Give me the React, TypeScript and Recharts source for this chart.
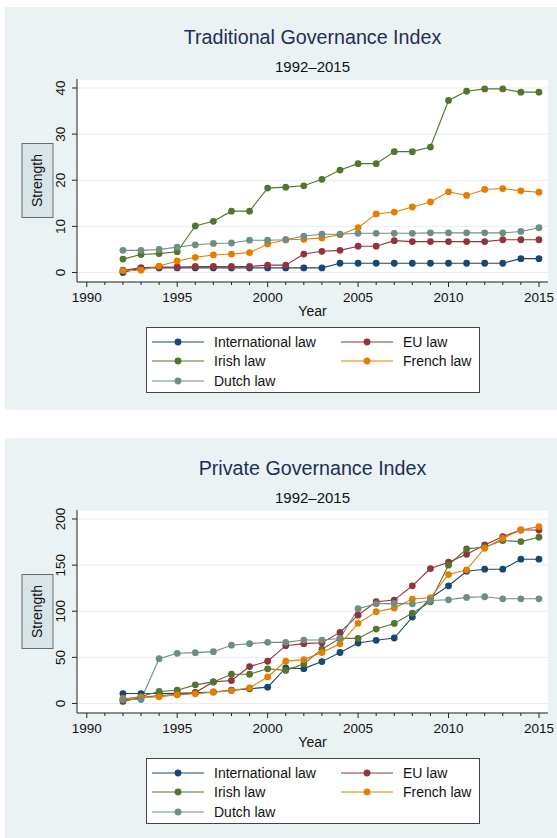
import { LineChart, Line, XAxis, YAxis, CartesianGrid } from 'recharts'

const FONT = '"Liberation Sans", Arial, Helvetica, sans-serif'

// years covered by the data, and every year on the axis (majors every 5)
const years = [1992, 1993, 1994, 1995, 1996, 1997, 1998, 1999, 2000, 2001, 2002, 2003, 2004, 2005, 2006, 2007, 2008, 2009, 2010, 2011, 2012, 2013, 2014, 2015]
const yearTicks = [1990, 1991, 1992, 1993, 1994, 1995, 1996, 1997, 1998, 1999, 2000, 2001, 2002, 2003, 2004, 2005, 2006, 2007, 2008, 2009, 2010, 2011, 2012, 2013, 2014, 2015]

// Traditional Governance Index
const tradTicks = [0, 10, 20, 30, 40]
const tradInternational = [0, 1, 1, 1, 1, 1, 1, 1, 1, 1, 1, 1, 2, 2, 2, 2, 2, 2, 2, 2, 2, 2, 3, 3]
const tradEU = [0.5, 1.0, 1.2, 1.2, 1.3, 1.3, 1.3, 1.3, 1.6, 1.6, 4.0, 4.6, 4.8, 5.7, 5.7, 6.9, 6.7, 6.7, 6.7, 6.7, 6.7, 7.1, 7.1, 7.1]
const tradIrish = [2.9, 3.9, 4.1, 4.5, 10.1, 11.1, 13.3, 13.3, 18.3, 18.5, 18.8, 20.2, 22.2, 23.6, 23.6, 26.2, 26.2, 27.2, 37.3, 39.3, 39.8, 39.8, 39.1, 39.1]
const tradFrench = [0.4, 0.5, 1.4, 2.5, 3.3, 3.8, 4.0, 4.3, 6.2, 7.1, 7.2, 7.5, 8.2, 9.7, 12.7, 13.1, 14.2, 15.3, 17.5, 16.7, 18.0, 18.2, 17.7, 17.4]
const tradDutch = [4.8, 4.8, 5.0, 5.5, 6.0, 6.3, 6.4, 7.0, 7.0, 7.1, 7.9, 8.3, 8.3, 8.5, 8.5, 8.5, 8.5, 8.6, 8.6, 8.6, 8.6, 8.6, 8.9, 9.7]

// Private Governance Index
const privTicks = [0, 50, 100, 150, 200]
const privInternational = [10.8, 10.8, 10.8, 11, 11.5, 12.5, 14.4, 15.9, 17.7, 38.5, 37.8, 45.4, 55.3, 65.5, 68.5, 71, 93.7, 114.2, 127.6, 143.4, 145.6, 145.6, 156.4, 156.4]
const privEU = [2.2, 6.5, 8.6, 9.7, 11.9, 23.4, 24.9, 40, 45.8, 62.7, 64.9, 65.9, 77.1, 95.8, 110.3, 112.1, 127.6, 146.3, 153.2, 161.8, 171.9, 180.9, 188.1, 188.1]
const privIrish = [4.3, 7.6, 13, 14.4, 20.2, 23.4, 31.7, 31.7, 37.6, 35.9, 42.9, 58.9, 70.6, 70.6, 80.7, 86.8, 98, 110.3, 150, 167.6, 169.7, 176.6, 175.5, 180.2]
const privFrench = [5.4, 6.5, 7.2, 9.4, 10.5, 12.3, 14, 16.9, 28.8, 45.9, 47.6, 55.3, 64.7, 86.9, 99.5, 103.4, 113.2, 114.6, 139.8, 144.9, 168.3, 179.1, 188.1, 191.7]
const privDutch = [4.3, 4.3, 48.6, 54.4, 55.1, 56.2, 63.2, 64.9, 66.3, 66.3, 68.8, 68.8, 70.5, 102.8, 108.1, 108.5, 108.1, 111.7, 112.4, 115, 115.7, 113.5, 113.5, 113.5]

const series = [
  { key: 'intl', name: 'International law', color: '#1a476f' },
  { key: 'eu', name: 'EU law', color: '#90353b' },
  { key: 'irish', name: 'Irish law', color: '#55752f' },
  { key: 'french', name: 'French law', color: '#e37e00' },
  { key: 'dutch', name: 'Dutch law', color: '#6e8e84' },
]

const buildRows = (intl: number[], eu: number[], irish: number[], french: number[], dutch: number[]) =>
  years.map((year, i) => ({ year, intl: intl[i], eu: eu[i], irish: irish[i], french: french[i], dutch: dutch[i] }))

const tradData = buildRows(tradInternational, tradEU, tradIrish, tradFrench, tradDutch)
const privData = buildRows(privInternational, privEU, privIrish, privFrench, privDutch)

const YearTick = ({ x, y, payload }: any) => {
  const major = payload.value % 5 === 0
  return (
    <g>
      <line x1={x} x2={x} y1={y} y2={y + (major ? 5 : 3)} stroke="#222" />
      {major && (
        <text x={x} y={y + 19.5} textAnchor="middle" fontSize={13.5} fill="#111" fontFamily={FONT}>
          {payload.value}
        </text>
      )}
    </g>
  )
}

const ValueTick = ({ x, y, payload }: any) => (
  <g>
    <line x1={x} x2={x - 5} y1={y} y2={y} stroke="#222" />
    <text
      transform={`translate(${x - 17},${y}) rotate(-90)`}
      textAnchor="middle"
      dy="0.35em"
      fontSize={13.5}
      fill="#111"
      fontFamily={FONT}
    >
      {payload.value}
    </text>
  </g>
)

const StrengthTitle = ({ viewBox }: any) => {
  const cx = viewBox.x + 0.5
  const cy = viewBox.y + viewBox.height / 2
  return (
    <g>
      <rect x={cx - 15.5} y={cy - 37} width={31} height={74} fill="#d9e4e9" stroke="#6a6a6a" />
      <text
        transform={`translate(${cx},${cy}) rotate(-90)`}
        textAnchor="middle"
        dy="0.35em"
        fontSize={14}
        fill="#111"
        fontFamily={FONT}
      >
        Strength
      </text>
    </g>
  )
}

const YearTitle = ({ viewBox }: any) => (
  <text
    x={viewBox.x + viewBox.width / 2}
    y={viewBox.y + 34}
    textAnchor="middle"
    fontSize={14}
    fill="#111"
    fontFamily={FONT}
  >
    Year
  </text>
)

const legendRows = [
  ['intl', 'eu'],
  ['irish', 'french'],
  ['dutch'],
]

function LegendBox() {
  return (
    <div
      style={{
        position: 'absolute',
        left: 141,
        top: 320,
        width: 334,
        height: 66,
        boxSizing: 'border-box',
        border: '1px solid #444',
        background: '#fff',
      }}
    >
      {legendRows.map((row, r) =>
        row.map((key, c) => {
          const s = series.find((d) => d.key === key)!
          return (
            <div
              key={key}
              style={{
                position: 'absolute',
                left: c === 0 ? 5 : 194,
                top: 3.5 + r * 19.8,
                height: 20,
                display: 'flex',
                alignItems: 'center',
              }}
            >
              <svg width={52} height={20}>
                <line x1={0} x2={52} y1={10} y2={10} stroke={s.color} strokeWidth={1} />
                <circle cx={26} cy={10} r={3.4} fill={s.color} />
              </svg>
              <span style={{ marginLeft: 10, fontSize: 14, color: '#111', fontFamily: FONT, whiteSpace: 'nowrap' }}>
                {s.name}
              </span>
            </div>
          )
        })
      )}
    </div>
  )
}

function Panel({ top, height, title, data, domain, ticks }: any) {
  return (
    <div style={{ position: 'absolute', left: 5, top, width: 552, height, background: '#eaf2f3', overflow: 'hidden' }}>
      <div
        style={{
          position: 'absolute',
          left: 72,
          width: 471,
          top: 18.5,
          lineHeight: '23px',
          textAlign: 'center',
          fontSize: 19.7,
          color: '#1f2e58',
          fontFamily: FONT,
        }}
      >
        {title}
      </div>
      <div
        style={{
          position: 'absolute',
          left: 72,
          width: 471,
          top: 50.5,
          lineHeight: '18px',
          textAlign: 'center',
          fontSize: 15,
          color: '#111',
          fontFamily: FONT,
        }}
      >
        1992–2015
      </div>
      <div style={{ position: 'absolute', left: 0, top: 0 }}>
        <LineChart width={552} height={403} data={data} margin={{ top: 72, right: 9, left: 32, bottom: 98 }}>
          <CartesianGrid vertical={false} stroke="#e6eef0" fill="#ffffff" />
          <XAxis
            dataKey="year"
            type="number"
            domain={[1989.46, 2015.5]}
            ticks={yearTicks}
            interval={0}
            height={30}
            tickSize={0}
            tickMargin={0}
            tickLine={false}
            axisLine={{ stroke: '#222' }}
            tick={<YearTick />}
            label={<YearTitle />}
          />
          <YAxis
            type="number"
            domain={domain}
            allowDataOverflow
            ticks={ticks}
            interval={0}
            width={40}
            tickSize={0}
            tickMargin={0}
            tickLine={false}
            axisLine={{ stroke: '#222' }}
            tick={<ValueTick />}
            label={<StrengthTitle />}
          />
          {series.map((s) => (
            <Line
              key={s.key}
              type="linear"
              dataKey={s.key}
              name={s.name}
              stroke={s.color}
              strokeWidth={1.1}
              dot={{ r: 3.4, fill: s.color, stroke: 'none' }}
              activeDot={false}
              isAnimationActive={false}
            />
          ))}
        </LineChart>
      </div>
      <LegendBox />
    </div>
  )
}

export default function App() {
  return (
    <div style={{ position: 'relative', width: 557, height: 838, background: '#fff', overflow: 'hidden' }}>
      <style>{'body{margin:0}'}</style>
      <Panel top={7} height={403} title="Traditional Governance Index" data={tradData} domain={[-2.06, 41.95]} ticks={tradTicks} />
      <Panel top={438} height={400} title="Private Governance Index" data={privData} domain={[-10.3, 209.76]} ticks={privTicks} />
    </div>
  )
}
